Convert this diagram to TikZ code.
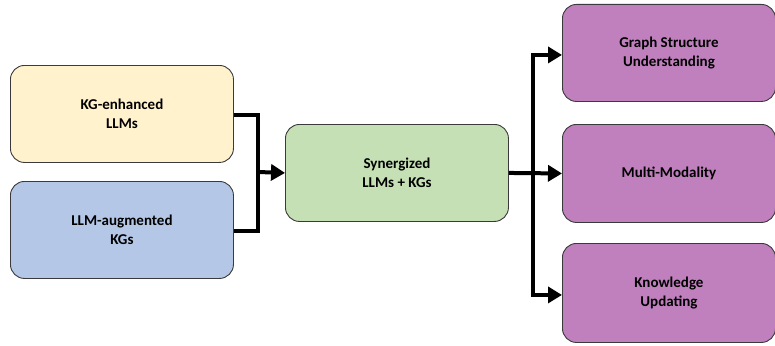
\documentclass[tikz,border=0pt]{standalone}
\usepackage{fontspec}
\setmainfont{Carlito}[BoldFont={Carlito Bold}]
\usetikzlibrary{arrows.meta}
\definecolor{cyellow}{HTML}{FFF2CC}
\definecolor{cblue}{HTML}{B4C7E7}
\definecolor{cgreen}{HTML}{C5E0B4}
\definecolor{cpurple}{HTML}{C080BE}
\definecolor{cborder}{HTML}{3A3A3A}
\begin{document}
\begin{tikzpicture}[x=1pt,y=-1pt,
  box/.style={draw=cborder,line width=0.9pt,rounded corners=14pt,minimum width=223pt,minimum height=97pt,inner sep=0pt,align=center,font=\fontsize{15}{18.5}\selectfont\bfseries,anchor=north west},
  conn/.style={line width=4pt,-{Triangle[length=14pt,width=16pt]}},
  seg/.style={line width=4pt}]
\useasboundingbox (0,0) rectangle (775,345);
\node[box,fill=cyellow] (kge) at (10,65) {KG-enhanced\\LLMs};
\node[box,fill=cblue] (lla) at (10,181) {LLM-augmented\\KGs};
\node[box,fill=cgreen] (syn) at (285,124) {Synergized\\LLMs + KGs};
\node[box,fill=cpurple,minimum width=213pt] (gsu) at (562,4) {Graph Structure\\Understanding};
\node[box,fill=cpurple,minimum width=213pt,minimum height=98pt] (mm) at (562,124) {Multi-Modality};
\node[box,fill=cpurple,minimum width=213pt,minimum height=99pt] (ku) at (562,243) {Knowledge\\Updating};
\coordinate (j1) at (258,172);
\coordinate (j2) at (533,172);
\draw[seg] ([yshift=-1pt]kge.east) -| (j1);
\draw[seg] ([yshift=-1pt]lla.east) -| (j1);
\draw[conn] (j1) -- (syn.west);
\draw[conn] (syn.east) -- (mm.west);
\draw[conn] (j2) |- ([yshift=-2pt]gsu.west);
\draw[conn] (j2) |- ([yshift=-2pt]ku.west);
\end{tikzpicture}
\end{document}
